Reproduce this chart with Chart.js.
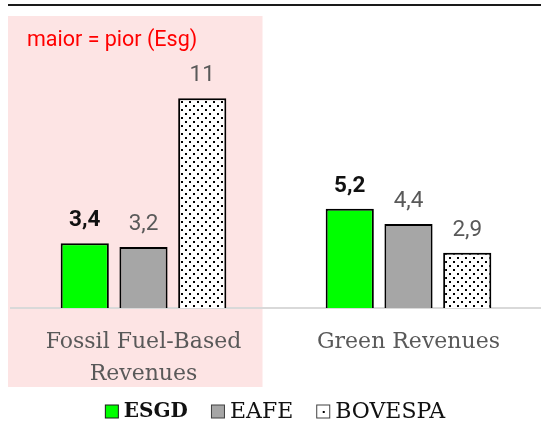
<!DOCTYPE html>
<html>
<head>
<meta charset="utf-8">
<script src="https://cdn.jsdelivr.net/npm/chart.js@4.4.1/dist/chart.umd.min.js"></script>
<style>
  html, body { margin: 0; padding: 0; background: #fff; }
  #wrap { width: 541px; height: 423px; position: relative; }
</style>
</head>
<body>
<div id="wrap"><canvas id="chart" width="541" height="423"></canvas></div>
<script>
// data
const categories = [['Fossil Fuel-Based', 'Revenues'], 'Green Revenues'];
const seriesNames = ['ESGD', 'EAFE', 'BOVESPA'];
const esgd = [3.4, 5.2];
const eafe = [3.2, 4.4];
const bovespa = [11, 2.9];
const yMax = 15;
const note = 'maior = pior (Esg)';

const slab = '"DejaVu Serif", "Liberation Serif", serif';
const sans = 'Roboto, "Noto Sans", sans-serif';

// dotted fill for BOVESPA
function dots() {
    const c = document.createElement('canvas');
    c.width = 8; c.height = 8;
    const g = c.getContext('2d');
    g.fillStyle = '#fff';
    g.fillRect(0, 0, 8, 8);
    g.fillStyle = '#000';
    g.fillRect(1, 1, 2, 2);
    g.fillRect(5, 5, 2, 2);
    return g.createPattern(c, 'repeat');
}
const dotFill = dots();

const fmt = v => String(v).replace('.', ',');

// pink box, top rule and note behind the bars
const backdrop = {
    id: 'backdrop',
    beforeDraw(chart) {
        const { ctx, scales } = chart;
        const cx = scales.x.getPixelForValue(0);
        ctx.save();
        ctx.fillStyle = '#fde4e4';
        ctx.fillRect(8, 16, cx + 119 - 8, 387 - 16);
        ctx.strokeStyle = '#1a1a1a';
        ctx.lineWidth = 2;
        ctx.beginPath();
        ctx.moveTo(8, 5);
        ctx.lineTo(541, 5);
        ctx.stroke();
        ctx.fillStyle = '#ff0000';
        ctx.font = '21.5px ' + sans;
        ctx.textBaseline = 'middle';
        ctx.fillText(note, 27, 41);
        ctx.restore();
    }
};

// value labels over the bars
const valueLabels = {
    id: 'valueLabels',
    afterDatasetsDraw(chart) {
        const { ctx } = chart;
        ctx.save();
        ctx.textAlign = 'center';
        ctx.textBaseline = 'alphabetic';
        chart.data.datasets.forEach((ds, i) => {
            const meta = chart.getDatasetMeta(i);
            meta.data.forEach((bar, j) => {
                ctx.font = (i === 0 ? 'bold ' : '') + '22.5px ' + sans;
                ctx.fillStyle = i === 0 ? '#111' : '#595959';
                ctx.fillText(fmt(ds.data[j]), bar.x, bar.y - 17);
            });
        });
        ctx.restore();
    }
};

// legend at the bottom, ESGD in bold
const bottomLegend = {
    id: 'bottomLegend',
    afterDraw(chart) {
        const { ctx } = chart;
        const box = 13, gapText = 6, gapItem = 23, y = 411;
        const items = chart.data.datasets.map((ds, i) => {
            const font = (i === 0 ? 'bold 20px ' : '22px ') + slab;
            ctx.font = font;
            return { ds, font, w: ctx.measureText(ds.label).width };
        });
        const total = items.reduce((s, it) => s + box + gapText + it.w, 0) + gapItem * (items.length - 1);
        let x = 275 - total / 2;
        ctx.save();
        ctx.textBaseline = 'middle';
        items.forEach((it, i) => {
            const ds = it.ds;
            ctx.fillStyle = i === 2 ? '#fff' : ds.backgroundColor;
            ctx.fillRect(x + 0.5, y - box / 2 + 0.5, box, box);
            ctx.strokeStyle = i === 0 ? '#1a1a1a' : '#404040';
            ctx.lineWidth = 1;
            ctx.strokeRect(x + 0.5, y - box / 2 + 0.5, box, box);
            if (i === 2) {
                ctx.fillStyle = '#000';
                ctx.fillRect(x + box / 2, y, 2, 2);
            }
            x += box + gapText;
            ctx.font = it.font;
            ctx.fillStyle = '#111';
            ctx.fillText(ds.label, x, y + 1);
            x += it.w + gapItem;
        });
        ctx.restore();
    }
};

const ctx = document.getElementById('chart').getContext('2d');
new Chart(ctx, {
    type: 'bar',
    data: {
        labels: categories,
        datasets: [
            { label: seriesNames[0], data: esgd, backgroundColor: '#00ff00' },
            { label: seriesNames[1], data: eafe, backgroundColor: '#a6a6a6' },
            { label: seriesNames[2], data: bovespa, backgroundColor: dotFill }
        ]
    },
    options: {
        responsive: false,
        animation: false,
        layout: { padding: { top: 22, left: 11, right: 0, bottom: 0 } },
        datasets: {
            bar: {
                borderColor: '#000',
                borderWidth: 2,
                categoryPercentage: 0.665,
                barPercentage: 0.82
            }
        },
        plugins: {
            legend: { display: false },
            tooltip: { enabled: false }
        },
        scales: {
            x: {
                grid: { display: false, drawTicks: false },
                border: { display: true, color: '#d9d9d9', width: 2 },
                ticks: {
                    color: '#595959',
                    font: { family: slab, size: 22, lineHeight: 1.45 },
                    padding: 18,
                    maxRotation: 0
                },
                afterFit(scale) { scale.height = 115; },
                // categories sit a little wider than the canvas in the original
                afterSetDimensions(scale) {
                    if (scale.right > 500) {
                        scale.right = 546;
                        scale.width = scale.right - scale.left;
                    }
                }
            },
            y: {
                display: false,
                min: 0,
                max: yMax
            }
        }
    },
    plugins: [backdrop, valueLabels, bottomLegend]
});
</script>
</body>
</html>
